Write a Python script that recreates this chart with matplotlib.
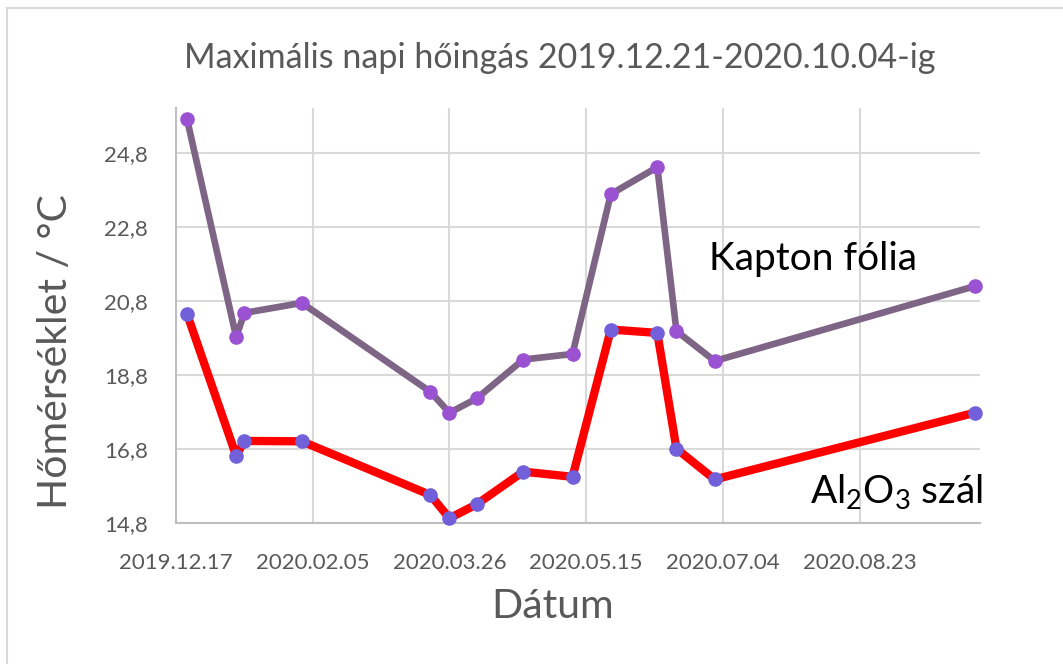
import datetime as dt
import matplotlib
matplotlib.use("Agg")
import matplotlib.pyplot as plt
import matplotlib.dates as mdates
from matplotlib.ticker import FuncFormatter
from matplotlib.lines import Line2D

plt.rcParams["font.family"] = ["Lato", "DejaVu Sans"]
plt.rcParams["mathtext.fontset"] = "custom"
plt.rcParams["mathtext.rm"] = "Lato"
plt.rcParams["mathtext.it"] = "Lato"

# measurement dates (2019.12.21 - 2020.10.04)
dates = ["2019-12-21", "2020-01-08", "2020-01-11", "2020-02-01", "2020-03-19",
         "2020-03-26", "2020-04-05", "2020-04-22", "2020-05-10", "2020-05-24",
         "2020-06-10", "2020-06-17", "2020-07-01", "2020-10-04"]
kapton = [25.72, 19.82, 20.47, 20.74, 18.34, 17.77, 18.16, 19.21, 19.36,
          23.68, 24.41, 19.98, 19.17, 21.19]
al2o3 = [20.45, 16.61, 17.01, 17.00, 15.55, 14.92, 15.30, 16.18, 16.04,
         20.02, 19.93, 16.80, 15.97, 17.77]
xtick_dates = ["2019-12-17", "2020-02-05", "2020-03-26", "2020-05-15",
               "2020-07-04", "2020-08-23"]
yticks = [14.8, 16.8, 18.8, 20.8, 22.8, 24.8]

x = [dt.datetime.strptime(d, "%Y-%m-%d") for d in dates]
xt = [dt.datetime.strptime(d, "%Y-%m-%d") for d in xtick_dates]

fig = plt.figure(figsize=(10.63, 6.64), dpi=100)
W, H = 1063, 664
ax = fig.add_axes([176 / W, 1 - 522.7 / H, (980 - 176) / W, (522.7 - 108.3) / H])

grey = "#595959"

ax.plot(x, kapton, color="#7F6585", linewidth=4.8, marker="o",
        markersize=9.5, markerfacecolor="#9A52D2", markeredgecolor="#9A52D2",
        zorder=3, clip_on=False)
ax.plot(x, al2o3, color="#FF0000", linewidth=6, marker="o",
        markersize=9.5, markerfacecolor="#7160DA", markeredgecolor="#7160DA",
        zorder=3, clip_on=False)

ax.set_xlim(dt.datetime(2019, 12, 17), dt.datetime(2020, 10, 6))
ax.set_ylim(14.8, 26.0)
ax.set_xticks(xt)
ax.xaxis.set_major_formatter(mdates.DateFormatter("%Y.%m.%d"))
ax.set_yticks(yticks)
ax.yaxis.set_major_formatter(FuncFormatter(lambda v, p: f"{v:.1f}".replace(".", ",")))

ax.grid(True, color="#D9D9D9", linewidth=1.5, zorder=0)
ax.set_axisbelow(True)
for side in ["top", "right"]:
    ax.spines[side].set_visible(False)
for side in ["left", "bottom"]:
    ax.spines[side].set_color("#BFBFBF")
    ax.spines[side].set_linewidth(1.5)
ax.tick_params(length=0, labelsize=16, labelcolor=grey)
ax.tick_params(axis="y", pad=20)
ax.tick_params(axis="x", pad=22)

fig.text(560 / W, 1 - 58 / H, "Maximális napi hőingás 2019.12.21-2020.10.04-ig",
         ha="center", va="center", fontsize=24.5, color=grey)
fig.text(553 / W, 1 - 607 / H, "Dátum", ha="center", va="center",
         fontsize=29.5, color=grey)
fig.text(56 / W, 1 - 352 / H, "Hőmérséklet / °C", ha="center", va="center",
         rotation=90, fontsize=29.5, color=grey)

ax.text(dt.datetime(2020, 6, 29), 21.62, "Kapton fólia", fontsize=28,
        color="black", ha="left", va="baseline")
ax.text(dt.datetime(2020, 10, 7), 15.33, "Al$_2$O$_3$ szál", fontsize=28,
        color="black", ha="right", va="baseline")

# chart frame
fig.add_artist(Line2D([7 / W, 7 / W], [0, 1 - 8 / H], color="#D9D9D9", linewidth=1.5))
fig.add_artist(Line2D([7 / W, 1], [1 - 8 / H, 1 - 8 / H], color="#D9D9D9", linewidth=1.5))

fig.savefig("out.png", dpi=100)
